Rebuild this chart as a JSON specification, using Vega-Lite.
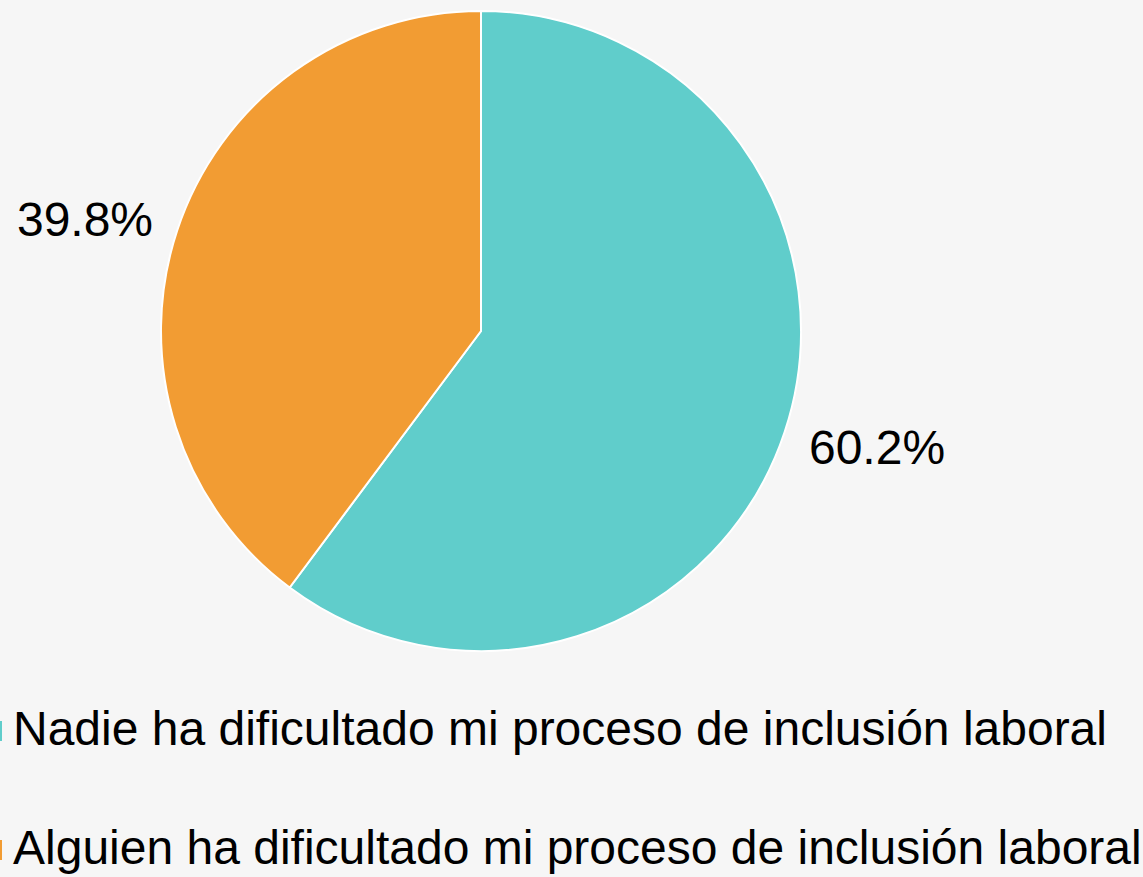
{
  "$schema": "https://vega.github.io/schema/vega-lite/v6.json",
  "width": 962,
  "height": 660,
  "autosize": {"type": "none"},
  "padding": {"left": 0, "top": 1, "right": 181, "bottom": 216},
  "background": "#f6f6f6",
  "data": {
    "values": [
      {"categoria": "Nadie ha dificultado mi proceso de inclusión laboral", "valor": 60.2, "orden": 1, "etiqueta": "60.2%"},
      {"categoria": "Alguien ha dificultado mi proceso de inclusión laboral", "valor": 39.8, "orden": 2, "etiqueta": "39.8%"}
    ]
  },
  "encoding": {
    "order": {"field": "orden", "type": "quantitative"}
  },
  "layer": [
    {
      "mark": {"type": "arc", "outerRadius": 320, "stroke": "#ffffff", "strokeWidth": 2},
      "encoding": {
        "theta": {"field": "valor", "type": "quantitative", "stack": true},
        "color": {
          "field": "categoria",
          "type": "nominal",
          "scale": {
            "domain": ["Nadie ha dificultado mi proceso de inclusión laboral", "Alguien ha dificultado mi proceso de inclusión laboral"],
            "range": ["#60cdcb", "#f29c33"]
          },
          "legend": {
            "title": null,
            "orient": "none",
            "legendX": -32,
            "legendY": 706,
            "direction": "vertical",
            "symbolType": "square",
            "symbolSize": 400,
            "symbolStrokeWidth": 0,
            "labelFont": "Liberation Sans",
            "labelFontSize": 48,
            "labelColor": "#000000",
            "labelOffset": -3,
            "labelLimit": 2000,
            "rowPadding": 71,
            "padding": 0
          }
        }
      }
    },
    {
      "mark": {"type": "text", "radius": 412, "dy": 5, "font": "Liberation Sans", "fontSize": 48, "align": "center", "baseline": "middle", "color": "#000000"},
      "encoding": {
        "theta": {"field": "valor", "type": "quantitative", "stack": true, "scale": {"range": [-0.041, 6.2422]}},
        "text": {"field": "etiqueta", "type": "nominal"}
      }
    }
  ],
  "resolve": {"scale": {"theta": "independent"}},
  "config": {"view": {"stroke": null}}
}
